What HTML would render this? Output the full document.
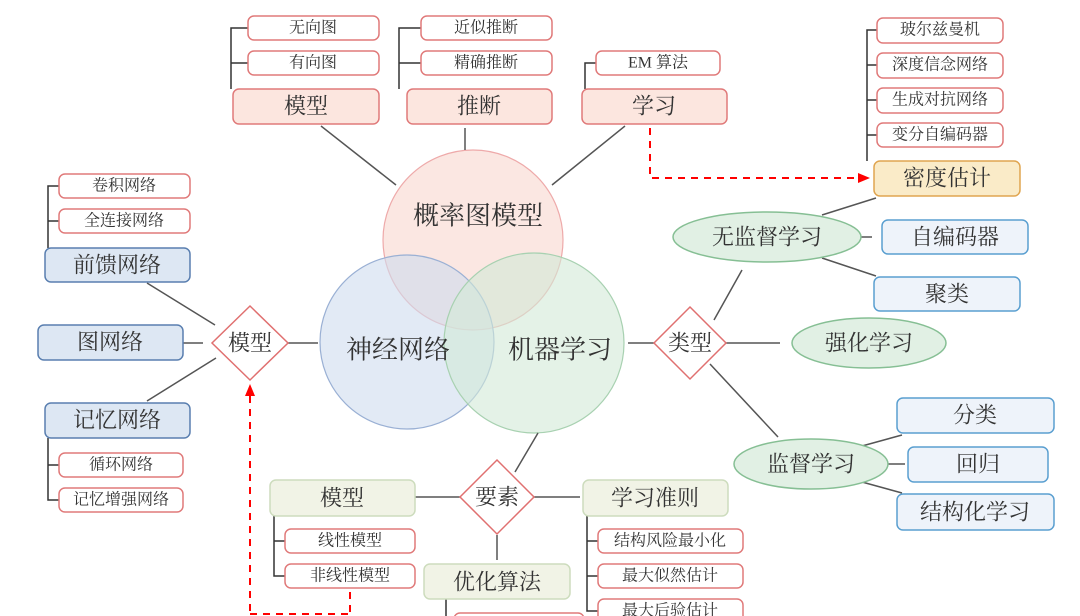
<!DOCTYPE html>
<html><head><meta charset="utf-8"><style>
html,body{margin:0;padding:0;background:#fff;}
svg{display:block;}
text{font-family:"Liberation Serif","Noto Serif CJK SC",serif;fill:#333;text-anchor:middle;dominant-baseline:central;}
.s{font-size:16px;}
.b{font-size:22px;}
.c{font-size:26px;}
.sb{fill:#fff;stroke:#e07a7a;stroke-width:1.5;}
.pk{fill:#fce6df;stroke:#e07a7a;stroke-width:1.5;}
.bl{fill:#dde7f3;stroke:#5a7fb0;stroke-width:1.5;}
.lb{fill:#eef3fa;stroke:#5a9fd0;stroke-width:1.5;}
.gr{fill:#f1f3e6;stroke:#cddcbd;stroke-width:1.5;}
.el{fill:#e1f0e4;stroke:#86bf94;stroke-width:1.5;}
.dm{fill:#fff;stroke:#e07070;stroke-width:1.5;}
.ln{stroke:#555;stroke-width:1.5;fill:none;}
.br{stroke:#333;stroke-width:1.5;fill:none;}
.dr{stroke:#f00;stroke-width:2;fill:none;stroke-dasharray:7,6;}
</style></head><body>
<svg width="1080" height="616" viewBox="0 0 1080 616" xmlns="http://www.w3.org/2000/svg">
<!-- circles -->
<circle cx="473" cy="240" r="90" fill="#f9d7cf" fill-opacity="0.6" stroke="#eaa" stroke-width="1.2"/>
<circle cx="407" cy="342" r="87" fill="#cfdcef" fill-opacity="0.6" stroke="#9ab0d4" stroke-width="1.2"/>
<circle cx="534" cy="343" r="90" fill="#d2e9d7" fill-opacity="0.6" stroke="#a8d1b1" stroke-width="1.2"/>
<text class="c" x="478" y="216">概率图模型</text>
<text class="c" x="398" y="350">神经网络</text>
<text class="c" x="560" y="350">机器学习</text>

<!-- lines -->
<path class="ln" d="M321 126 L396 185 M465 128 L465 150 M625 126 L552 185"/>
<path class="ln" d="M147 283 L215 325 M183 343 L203 343 M147 401 L216 358 M282 343 L318 343"/>
<path class="ln" d="M628 343 L656 343 M725 343 L780 343 M714 320 L742 270 M710 364 L778 437"/>
<path class="ln" d="M822 215 L876 198 M858 237 L872 237 M822 258 L876 276"/>
<path class="ln" d="M862 446 L902 435 M883 464 L905 464 M862 482 L902 493"/>
<path class="ln" d="M538 433 L515 472 M415 497 L460 497 M533 497 L580 497 M497 535 L497 560"/>

<!-- brackets -->
<path class="br" d="M240 28 L231 28 L231 89 M231 63 L248 63 M231 28 L248 28"/>
<path class="br" d="M413 28 L399 28 L399 89 M399 63 L421 63 M399 28 L421 28"/>
<path class="br" d="M596 63 L585 63 L585 89"/>
<path class="br" d="M877 30 L867 30 L867 161 M867 65 L877 65 M867 100 L877 100 M867 135 L877 135"/>
<path class="br" d="M59 186 L48 186 L48 248 M48 221 L59 221"/>
<path class="br" d="M48 438 L48 500 L59 500 M48 465 L59 465"/>
<path class="br" d="M274 516 L274 576 L285 576 M274 541 L285 541"/>
<path class="br" d="M587 516 L587 611 L598 611 M587 541 L598 541 M587 576 L598 576"/>
<path class="br" d="M446 599 L446 616"/>

<!-- dashed red -->
<path class="dr" d="M650 128 L650 178 L858 178"/>
<path d="M858 173 L870 178 L858 183 Z" fill="#f00"/>
<path class="dr" d="M250 396 L250 616 M350 592 L350 616 M250 614 L350 614"/>
<path d="M245 396 L250 384 L255 396 Z" fill="#f00"/>

<!-- top boxes -->
<rect class="sb" x="248" y="16" width="131" height="24" rx="6"/><text class="s" x="313" y="28">无向图</text>
<rect class="sb" x="248" y="51" width="131" height="24" rx="6"/><text class="s" x="313" y="63">有向图</text>
<rect class="pk" x="233" y="89" width="146" height="35" rx="6"/><text class="b" x="306" y="106">模型</text>
<rect class="sb" x="421" y="16" width="131" height="24" rx="6"/><text class="s" x="486" y="28">近似推断</text>
<rect class="sb" x="421" y="51" width="131" height="24" rx="6"/><text class="s" x="486" y="63">精确推断</text>
<rect class="pk" x="407" y="89" width="145" height="35" rx="6"/><text class="b" x="479" y="106">推断</text>
<rect class="sb" x="596" y="51" width="124" height="24" rx="6"/><text class="s" x="658" y="63">EM 算法</text>
<rect class="pk" x="582" y="89" width="145" height="35" rx="6"/><text class="b" x="654" y="106">学习</text>

<rect class="sb" x="877" y="18" width="126" height="25" rx="6"/><text class="s" x="940" y="30">玻尔兹曼机</text>
<rect class="sb" x="877" y="53" width="126" height="25" rx="6"/><text class="s" x="940" y="65">深度信念网络</text>
<rect class="sb" x="877" y="88" width="126" height="25" rx="6"/><text class="s" x="940" y="100">生成对抗网络</text>
<rect class="sb" x="877" y="123" width="126" height="24" rx="6"/><text class="s" x="940" y="135">变分自编码器</text>
<rect x="874" y="161" width="146" height="35" rx="6" fill="#faebc8" stroke="#e0a550" stroke-width="1.5"/><text class="b" x="947" y="178">密度估计</text>

<!-- left -->
<rect class="sb" x="59" y="174" width="131" height="24" rx="6"/><text class="s" x="124" y="186">卷积网络</text>
<rect class="sb" x="59" y="209" width="131" height="24" rx="6"/><text class="s" x="124" y="221">全连接网络</text>
<rect class="bl" x="45" y="248" width="145" height="34" rx="6"/><text class="b" x="117" y="265">前馈网络</text>
<rect class="bl" x="38" y="325" width="145" height="35" rx="6"/><text class="b" x="110" y="342">图网络</text>
<rect class="bl" x="45" y="403" width="145" height="35" rx="6"/><text class="b" x="117" y="420">记忆网络</text>
<rect class="sb" x="59" y="453" width="124" height="24" rx="6"/><text class="s" x="121" y="465">循环网络</text>
<rect class="sb" x="59" y="488" width="124" height="24" rx="6"/><text class="s" x="121" y="500">记忆增强网络</text>
<polygon class="dm" points="250,306 288,343 250,380 212,343"/><text class="b" x="250" y="343">模型</text>

<!-- right -->
<polygon class="dm" points="690,307 726,343 690,379 654,343"/><text class="b" x="690" y="343">类型</text>
<ellipse class="el" cx="767" cy="237" rx="94" ry="25"/><text class="b" x="767" y="237">无监督学习</text>
<rect class="lb" x="882" y="220" width="146" height="34" rx="6"/><text class="b" x="955" y="237">自编码器</text>
<rect class="lb" x="874" y="277" width="146" height="34" rx="6"/><text class="b" x="947" y="294">聚类</text>
<ellipse class="el" cx="869" cy="343" rx="77" ry="25"/><text class="b" x="869" y="343">强化学习</text>
<ellipse class="el" cx="811" cy="464" rx="77" ry="25"/><text class="b" x="811" y="464">监督学习</text>
<rect class="lb" x="897" y="398" width="157" height="35" rx="6"/><text class="b" x="975" y="415">分类</text>
<rect class="lb" x="908" y="447" width="140" height="35" rx="6"/><text class="b" x="978" y="464">回归</text>
<rect class="lb" x="897" y="494" width="157" height="36" rx="6"/><text class="b" x="975" y="512">结构化学习</text>

<!-- bottom -->
<polygon class="dm" points="497,460 534,497 497,534 460,497"/><text class="b" x="497" y="497">要素</text>
<rect class="gr" x="270" y="480" width="145" height="36" rx="6"/><text class="b" x="342" y="498">模型</text>
<rect class="sb" x="285" y="529" width="130" height="24" rx="6"/><text class="s" x="350" y="541">线性模型</text>
<rect class="sb" x="285" y="564" width="130" height="24" rx="6"/><text class="s" x="350" y="576">非线性模型</text>
<rect class="gr" x="583" y="480" width="145" height="36" rx="6"/><text class="b" x="655" y="498">学习准则</text>
<rect class="sb" x="598" y="529" width="145" height="24" rx="6"/><text class="s" x="670" y="541">结构风险最小化</text>
<rect class="sb" x="598" y="564" width="145" height="24" rx="6"/><text class="s" x="670" y="576">最大似然估计</text>
<rect class="sb" x="598" y="599" width="145" height="24" rx="6"/><text class="s" x="670" y="611">最大后验估计</text>
<rect class="gr" x="424" y="564" width="146" height="35" rx="6"/><text class="b" x="497" y="582">优化算法</text>
<rect class="sb" x="454" y="613" width="130" height="24" rx="6"/>
</svg>
</body></html>
